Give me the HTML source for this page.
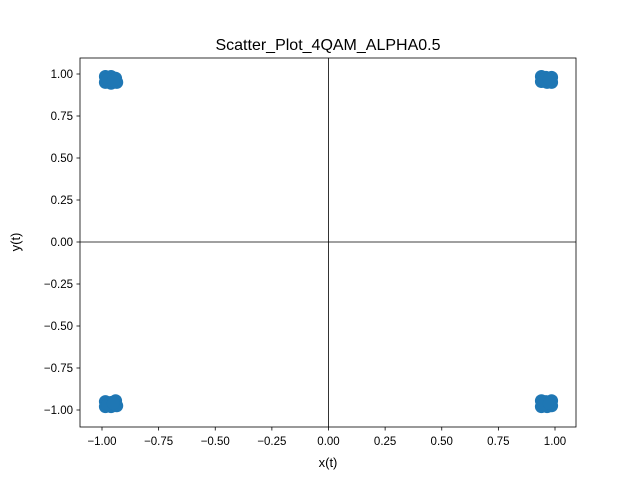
<!DOCTYPE html>
<html><head><meta charset="utf-8"><style>
body{margin:0;background:#fff;}
svg{font-family:"Liberation Sans","DejaVu Sans",sans-serif;}
</style></head><body>
<svg id="chart" width="640" height="480">
<rect x="0" y="0" width="640" height="480" fill="#fff"/>
<text x="328" y="50" text-anchor="middle" font-size="16">Scatter_Plot_4QAM_ALPHA0.5</text>
<g id="marks"></g>
<rect x="80" y="58" width="496" height="369" fill="none" stroke="#000" stroke-width="0.8"/>
<g id="axes"></g>
<text x="328" y="467" text-anchor="middle" font-size="13">x(t)</text>
<text x="20" y="242" text-anchor="middle" font-size="13" transform="rotate(-90 20 242)">y(t)</text>
</svg>
<script>
const xTicks=[-1.0,-0.75,-0.5,-0.25,0.0,0.25,0.5,0.75,1.0];
const yTicks=[-1.0,-0.75,-0.5,-0.25,0.0,0.25,0.5,0.75,1.0];
const xTickLabels=["−1.00","−0.75","−0.50","−0.25","0.00","0.25","0.50","0.75","1.00"];
const yTickLabels=["−1.00","−0.75","−0.50","−0.25","0.00","0.25","0.50","0.75","1.00"];
const ptsX=[-0.985,-0.96,-0.94,-0.985,-0.96,-0.935,-0.975,-0.95,
  0.94,0.96,0.985,0.94,0.965,0.985,0.95,0.975,
  -0.985,-0.96,-0.94,-0.985,-0.96,-0.935,-0.975,-0.95,
  0.94,0.96,0.985,0.94,0.965,0.985,0.95,0.975];
const ptsY=[0.985,0.985,0.975,0.95,0.945,0.95,0.965,0.96,
  0.985,0.98,0.98,0.955,0.95,0.95,0.965,0.97,
  -0.95,-0.955,-0.945,-0.98,-0.98,-0.975,-0.965,-0.96,
  -0.945,-0.95,-0.945,-0.98,-0.98,-0.975,-0.965,-0.96];
const sx=v=>328.5+v*226.5;
const sy=v=>242-v*168;
const NS="http://www.w3.org/2000/svg";
const marks=document.getElementById('marks');
const axes=document.getElementById('axes');
function mk(tag,attrs,parent){const e=document.createElementNS(NS,tag);for(const k in attrs)e.setAttribute(k,attrs[k]);parent.appendChild(e);return e;}
for(let i=0;i<ptsX.length;i++){
  const c=mk('circle',{cx:sx(ptsX[i]),cy:sy(ptsY[i]),r:6.5,fill:'#1f77b4'},marks);
  
  
}
const hl=mk('line',{x1:80,x2:576,y1:sy(0),y2:sy(0),stroke:'#000','stroke-width':0.8},axes);


const vl=mk('line',{x1:sx(0),x2:sx(0),y1:58,y2:427,stroke:'#000','stroke-width':0.8},axes);


xTicks.forEach((v,i)=>{
  const x=sx(v);
  const t=mk('line',{x1:x,x2:x,y1:427,y2:430.5,stroke:'#000','stroke-width':0.8},axes);
  
  
  const l=mk('text',{x:x,y:445,'text-anchor':'middle','font-size':11.5},axes);
  l.textContent=xTickLabels[i];
  
  
});
yTicks.forEach((v,i)=>{
  const y=sy(v);
  const t=mk('line',{x1:76.5,x2:80,y1:y,y2:y,stroke:'#000','stroke-width':0.8},axes);
  
  
  const l=mk('text',{x:73,y:y+4,'text-anchor':'end','font-size':11.5},axes);
  l.textContent=yTickLabels[i];
  
  
});
</script>
</body></html>
